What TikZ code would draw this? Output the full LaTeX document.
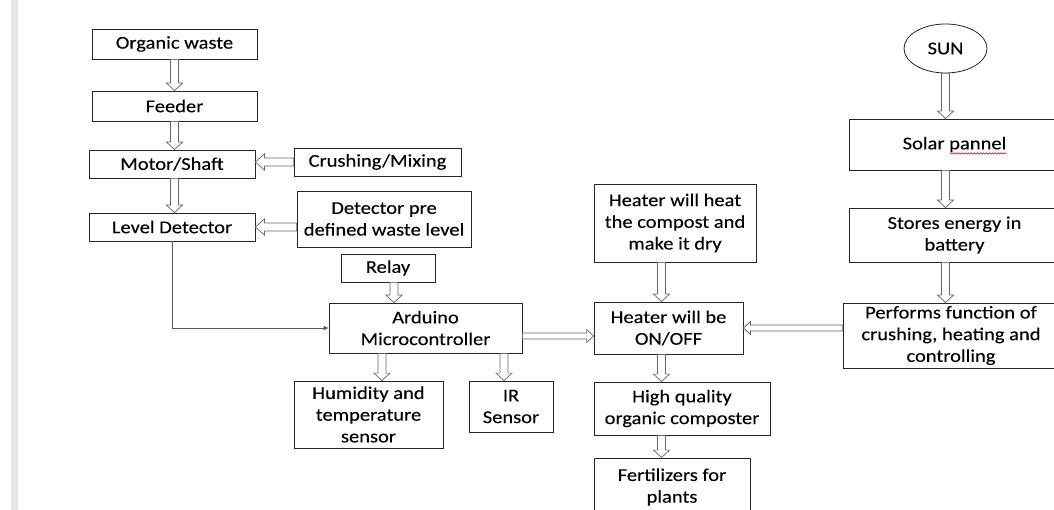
\documentclass[tikz,border=0pt]{standalone}
\usepackage{fontspec}
\setmainfont{Carlito}[FakeStretch=1.14,FakeBold=0.15]
\usetikzlibrary{calc,arrows.meta,decorations.pathmorphing,shapes.geometric}
\tikzset{
  box/.style={draw=black!85, line width=0.8pt, rectangle, inner sep=0pt, align=center,
    font=\fontsize{18}{21.7}\selectfont, text=black},
  sz/.style 2 args={minimum width=#1pt, minimum height=#2pt},
  blk/.style n args={3}{draw=black!60, line width=0.7pt, fill=white, line join=miter,
    to path={let \p1=(\tikztostart), \p2=(\tikztotarget),
      \n1={atan2(\y2-\y1,\x2-\x1)}, \n2={veclen(\x2-\x1,\y2-\y1)} in
      {[shift={(\p1)}, rotate=\n1]
        (0pt,#1) -- ({\n2*1pt-#3},#1) -- ({\n2*1pt-#3},#2) -- ({\n2*1pt},0pt)
        -- ({\n2*1pt-#3},-#2) -- ({\n2*1pt-#3},-#1) -- (0pt,-#1) -- cycle}}},
  varrow/.style={blk={4pt}{8pt}{7.5pt}},
  harrow/.style={blk={4pt}{8pt}{9pt}},
  tarrow/.style={blk={3pt}{6.5pt}{7pt}},
  conn/.style={draw=black!65, line width=0.8pt, -{Latex[length=5pt,width=5pt]}},
}
\begin{document}
\begin{tikzpicture}[x=1pt,y=-1pt]
\fill[white] (0,0) rectangle (1054,510);
\useasboundingbox (0,0) rectangle (1054,510);
\fill[black!10] (11,0) rectangle (17.5,510);

% left column
\node[box, sz={165}{30}] (org) at (174.5,44) {Organic waste};
\node[box, sz={165}{30}] (feed) at (174.5,106) {Feeder};
\node[box, sz={166}{28}] (motor) at (172,164) {Motor/Shaft};
\node[box, sz={167}{28}] (crush) at (377.5,162) {Crushing/Mixing};
\node[box, sz={166}{28}] (level) at (172,227) {Level Detector};
\node[box, sz={174}{56}] (detect) at (384,219) {Detector pre\\defined waste level};
\node[box, sz={94}{28}] (relay) at (388,268) {Relay};
\node[box, sz={193}{50}] (ard) at (425.5,328) {Arduino\\Microcontroller};
\node[box, sz={149}{67}] (hum) at (368.5,414.5) {Humidity and\\temperature\\sensor};
\node[box, sz={84}{51}] (ir) at (511,406.5) {IR\\Sensor};

% middle column
\node[box, sz={162}{78}] (heat) at (675,223) {Heater will heat\\the compost and\\make it dry};
\node[box, sz={149}{52}] (onoff) at (668.5,328) {Heater will be\\ON/OFF};
\node[box, sz={176}{53}] (hq) at (682,408.5) {High quality\\organic composter};
\node[box, sz={156}{58}] (fert) at (672,487) {Fertilizers for\\plants};

% right column
\node[box, ellipse, sz={83}{49}] (sun) at (945.5,48.5) {SUN};
\node[box, sz={211}{51}] (solar) at (954.5,144.5) {Solar pannel};
\node[box, sz={211}{54}] (stores) at (954.5,235) {Stores energy in\\battery};
\node[box, sz={216}{65}] (perf) at (951,335.5) {Performs function of\\crushing, heating and\\controlling};

\draw[red!85!black, line width=0.5pt, decorate,
  decoration={snake, amplitude=0.7pt, segment length=3pt}]
  ([xshift=-5pt,yshift=-9pt]solar.center) -- ++(57pt,0pt);

% helper coordinates
\coordinate (r1) at ([xshift=6pt]relay.south);
\coordinate (h1) at ([xshift=13.5pt]hum.north);
\coordinate (i1) at ([xshift=-7pt]ir.north);
\coordinate (a2) at ([yshift=-8pt]ard.east);
\coordinate (t1) at ([xshift=-7pt]onoff.north);

% hollow arrows
\draw[varrow] (org.south) to (feed.north);
\draw[varrow] (feed.south) to (feed.south |- motor.north);
\draw[varrow] (motor.south -| feed.south) to (level.north -| feed.south);
\draw[harrow] (crush.west) to (crush.west -| motor.east);
\draw[harrow] (level.east -| detect.west) to (level.east);
\draw[varrow] (r1) to (r1 |- ard.north);
\draw[varrow] (h1 |- ard.south) to (h1);
\draw[varrow] (i1 |- ard.south) to (i1);
\draw[tarrow] (a2) to (a2 -| onoff.west);
\draw[tarrow] (perf.west |- onoff.east) to (onoff.east);
\draw[varrow] (t1 |- heat.south) to (t1);
\draw[varrow] (onoff.south -| t1) to (hq.north -| t1);
\draw[varrow] (hq.south -| t1) to (fert.north -| t1);
\draw[varrow] (sun.south) to (sun.south |- solar.north);
\draw[varrow] (solar.south -| sun.south) to (stores.north -| sun.south);
\draw[varrow] (stores.south -| sun.south) to (perf.north -| sun.south);

% plain connector
\draw[conn] (level.south) |- (ard.west);
\end{tikzpicture}
\end{document}
